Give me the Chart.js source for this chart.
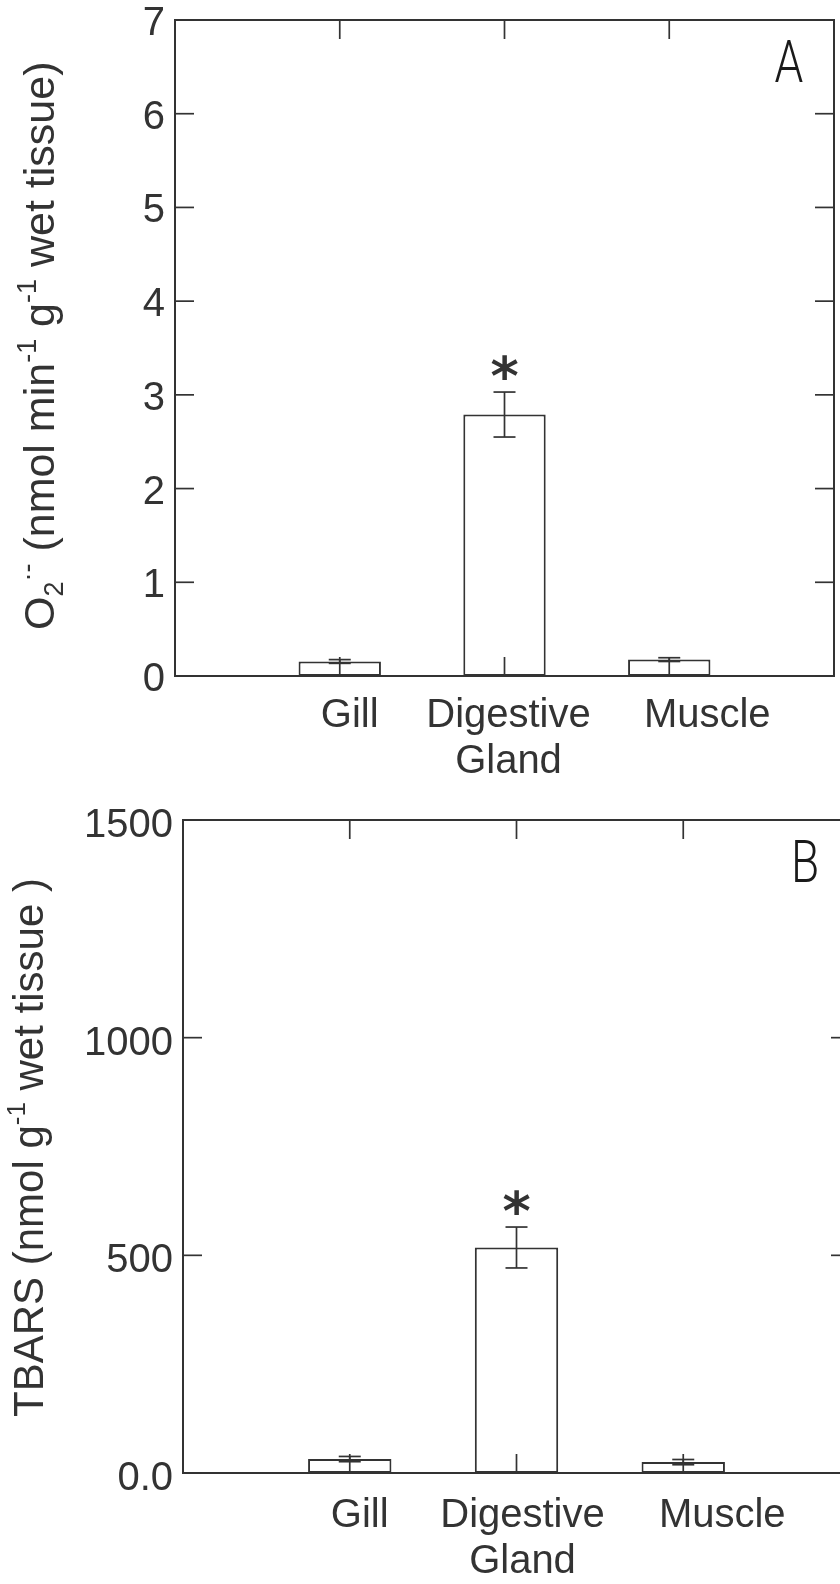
<!DOCTYPE html>
<html>
<head>
<meta charset="utf-8">
<script src="https://cdn.jsdelivr.net/npm/chart.js@4.4.0/dist/chart.umd.min.js"></script>
<style>
  body { margin: 0; background: #fff; width: 840px; height: 1584px; overflow: hidden; }
  #wrapA { position: absolute; left: 0; top: 0; width: 840px; height: 790px; }
  #wrapB { position: absolute; left: 0; top: 790px; width: 840px; height: 794px; overflow: hidden; }
</style>
</head>
<body>
<div id="wrapA"><canvas id="chartA" width="840" height="790"></canvas></div>
<div id="wrapB"><canvas id="chartB" width="860" height="794"></canvas></div>
<script>
// tissues on the x axis (bar i sits at x = i + 1 on a 0..4 axis)
const tissues = ['Gill', 'Digestive Gland', 'Muscle'];
const tissueLabels = [['Gill'], ['Digestive', 'Gland'], ['Muscle']];
const tissuePos = [1, 2, 3];

// panel A: superoxide production
const o2Mean = [0.155, 2.79, 0.175];
const o2Err = [0.02, 0.24, 0.02];

// panel B: TBARS
const tbarsMean = [32, 518, 25];
const tbarsErr = [6, 47, 6];

const significant = [false, true, false];

const FONT = '"Liberation Sans", Arial, Helvetica, sans-serif';
const INK = '#333';

function drawRich(ctx, parts, x, y, size) {
  let cx = x;
  parts.forEach(p => {
    const small = p.sub || p.sup;
    const s = small ? Math.round(size * 0.62) : size;
    ctx.font = s + 'px ' + FONT;
    const dy = p.sub ? size * 0.22 : (p.sup ? -size * 0.42 : 0);
    ctx.fillText(p.t, cx, y + dy);
    cx += ctx.measureText(p.t).width;
  });
}

function line(ctx, x1, y1, x2, y2) {
  ctx.beginPath();
  ctx.moveTo(x1, y1);
  ctx.lineTo(x2, y2);
  ctx.stroke();
}

const panelPlugin = {
  id: 'panel',
  afterDatasetsDraw(chart, args, opts) {
    const { ctx, chartArea: a, scales: { x, y } } = chart;
    ctx.save();
    ctx.strokeStyle = INK;
    ctx.fillStyle = INK;

    // frame
    ctx.lineWidth = 2;
    ctx.strokeRect(a.left, a.top, a.right - a.left, a.bottom - a.top);

    // inward ticks on all four sides
    const tl = 19;
    ctx.lineWidth = 1.7;
    y.ticks.forEach(t => {
      const py = y.getPixelForValue(t.value);
      line(ctx, a.left, py, a.left + tl, py);
      line(ctx, a.right, py, a.right - tl, py);
    });
    x.ticks.forEach(t => {
      if (t.value <= x.min || t.value >= x.max) return;
      const px = x.getPixelForValue(t.value);
      line(ctx, px, a.top, px, a.top + tl);
      line(ctx, px, a.bottom, px, a.bottom - tl);
    });

    // error bars and significance marks
    const ds = chart.data.datasets[0];
    ds.data.forEach((d, i) => {
      const px = x.getPixelForValue(d.x);
      const hi = y.getPixelForValue(d.y + opts.err[i]);
      const lo = y.getPixelForValue(d.y - opts.err[i]);
      line(ctx, px, hi, px, lo);
      line(ctx, px - 11, hi, px + 11, hi);
      line(ctx, px - 11, lo, px + 11, lo);
      if (significant[i]) {
        ctx.font = 'bold 54px "DejaVu Sans", sans-serif';
        ctx.textAlign = 'center';
        ctx.textBaseline = 'alphabetic';
        const m = ctx.measureText('*');
        const cy = hi - 25;
        ctx.fillText('*', px, cy + (m.actualBoundingBoxAscent - m.actualBoundingBoxDescent) / 2);
      }
    });

    // category labels
    ctx.font = '40px ' + FONT;
    ctx.textAlign = 'center';
    ctx.textBaseline = 'alphabetic';
    tissueLabels.forEach((lines, i) => {
      const px = x.getPixelForValue(tissuePos[i]) + opts.labelShift[i];
      lines.forEach((s, k) => ctx.fillText(s, px, a.bottom + opts.labelGap + k * 46));
    });

    // y axis title
    ctx.save();
    ctx.textAlign = 'left';
    ctx.translate(opts.titleX, opts.titleY);
    ctx.rotate(-Math.PI / 2);
    drawRich(ctx, opts.title, 0, 0, opts.titleSize);
    ctx.restore();

    // panel letter
    ctx.save();
    ctx.fillStyle = '#1a1a1a';
    ctx.font = '350 59px Roboto, "DejaVu Sans", sans-serif';
    ctx.textAlign = 'center';
    ctx.translate(a.right - 45, a.top + 62);
    ctx.scale(0.78, 1);
    ctx.fillText(opts.letter, 0, 0);
    ctx.restore();

    ctx.restore();
  }
};

function makePanel(id, means, yMax, yStep, yWidth, pad, xHeight, labelNudge, extra) {
  return new Chart(document.getElementById(id), {
    type: 'bar',
    data: {
      datasets: [{
        data: means.map((v, i) => ({ x: tissuePos[i], y: v })),
        backgroundColor: '#fff',
        borderColor: INK,
        borderWidth: 2,
        borderSkipped: false,
        barPercentage: 0.5,
        categoryPercentage: 1
      }]
    },
    options: {
      responsive: false,
      animation: false,
      layout: { padding: pad },
      plugins: { legend: { display: false }, tooltip: { enabled: false }, panel: extra },
      scales: {
        x: {
          type: 'linear',
          min: 0, max: 4,
          offset: false,
          grid: { display: false, drawTicks: false },
          border: { display: false },
          ticks: { display: false, stepSize: 1 },
          afterFit(s) { s.height = xHeight; s.paddingLeft = 0; s.paddingRight = 0; }
        },
        y: {
          min: 0, max: yMax,
          grid: { display: false, drawTicks: false },
          border: { display: false },
          ticks: {
            stepSize: yStep,
            padding: 10,
            labelOffset: labelNudge,
            color: INK,
            font: { family: FONT, size: 40 },
            callback: v => (yMax > 100 && v === 0) ? '0.0' : v
          },
          afterFit(s) { s.width = yWidth; s.paddingTop = 0; s.paddingBottom = 0; }
        }
      }
    },
    plugins: [panelPlugin]
  });
}

makePanel('chartA', o2Mean, 7, 1, 175, { top: 20, right: 6, left: 0, bottom: 0 }, 114, 4, {
  err: o2Err,
  letter: 'A',
  labelShift: [10, 4, 38],
  labelGap: 51,
  titleX: 54, titleY: 630, titleSize: 43,
  title: [
    { t: 'O' }, { t: '2', sub: true }, { t: '·-', sup: true },
    { t: ' (nmol min' }, { t: '-1', sup: true },
    { t: ' g' }, { t: '-1', sup: true },
    { t: ' wet tissue)' }
  ]
});

makePanel('chartB', tbarsMean, 1500, 500, 183, { top: 30, right: 10, left: 0, bottom: 0 }, 111, 6, {
  err: tbarsErr,
  letter: 'B',
  labelShift: [10, 6, 39],
  labelGap: 54,
  titleX: 43, titleY: 627, titleSize: 42,
  title: [
    { t: 'TBARS (nmol g' }, { t: '-1', sup: true },
    { t: ' wet tissue )' }
  ]
});
</script>
</body>
</html>
